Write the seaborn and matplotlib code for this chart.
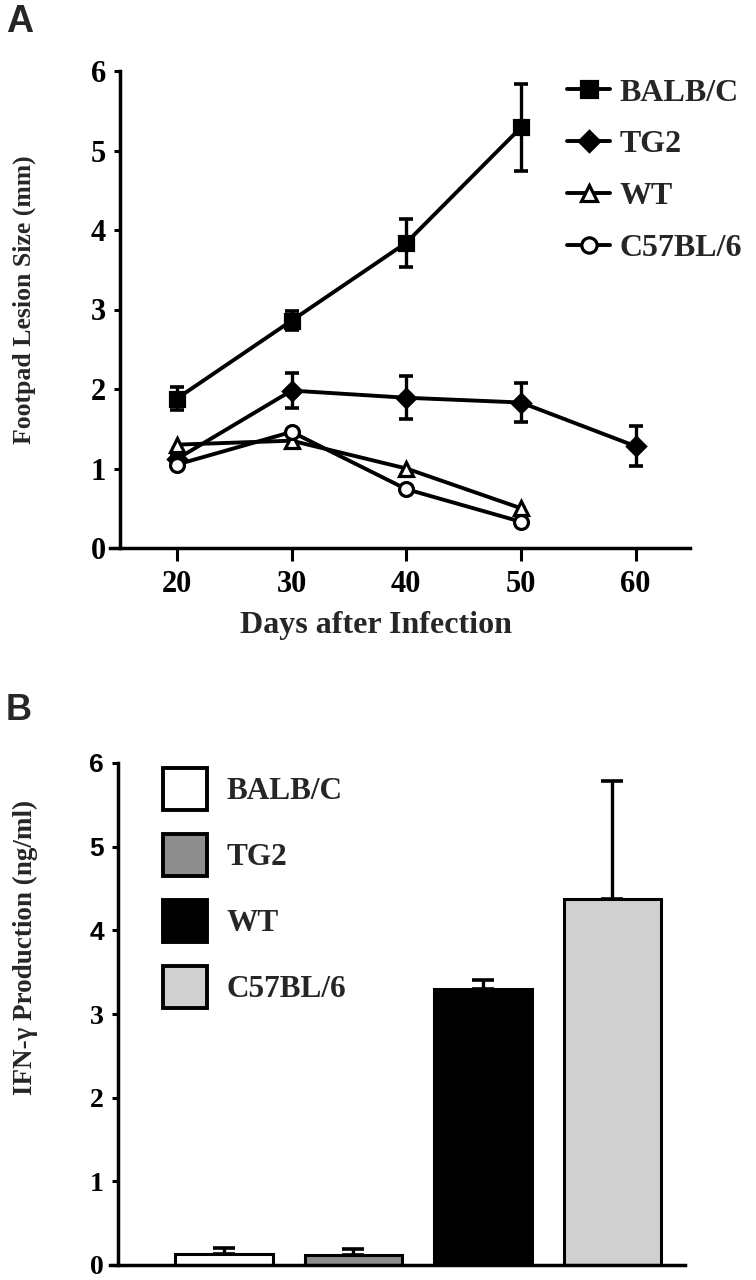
import numpy as np
import pandas as pd
import matplotlib
matplotlib.use("Agg")
import matplotlib.pyplot as plt
import seaborn as sns
from matplotlib.lines import Line2D
from matplotlib.patches import Patch

# ---------------- data ----------------
days = [20, 30, 40, 50]
tg2_days = [20, 30, 40, 50, 60]

balb_size = [1.88, 2.86, 3.84, 5.29]
balb_err = [0.14, 0.12, 0.30, 0.55]
tg2_size = [1.12, 1.98, 1.89, 1.83, 1.28]
tg2_err = [0.05, 0.22, 0.27, 0.25, 0.25]
wt_size = [1.30, 1.35, 1.00, 0.50]
c57_size = [1.05, 1.46, 0.74, 0.33]

strains = ["BALB/C", "TG2", "WT", "C57BL/6"]
ifn_values = [0.13, 0.12, 3.30, 4.37]
ifn_err = [0.07, 0.07, 0.11, 1.41]
bar_colors = ["#ffffff", "#8e8e8e", "#000000", "#cfd0cf"]

x_ticks_a = [20, 30, 40, 50, 60]
y_ticks = [0, 1, 2, 3, 4, 5, 6]

# ---------------- style ----------------
sns.set_theme(style="white")
plt.rcParams["font.family"] = ["Liberation Serif", "DejaVu Serif"]
plt.rcParams["font.weight"] = "bold"

SERIF = "Liberation Serif"
SANS = "Liberation Sans"
TICK_FS = 22

fig = plt.figure(figsize=(7.56, 12.8), dpi=100)
W, H = 756, 1280


def ax_rect(x0, x1, ytop, ybot):
    return [x0 / W, 1 - ybot / H, (x1 - x0) / W, (ybot - ytop) / H]


# ================= Panel A =================
axA = fig.add_axes(ax_rect(110, 690, 71, 548))

series = [
    ("BALB/C", days, balb_size, balb_err, "s", "black", 10),
    ("TG2", tg2_days, tg2_size, tg2_err, "D", "black", 9),
    ("WT", days, wt_size, None, "^", "white", 10),
    ("C57BL/6", days, c57_size, None, "o", "white", 10),
]
for name, xs, ys, errs, mk, fc, ms in series:
    df = pd.DataFrame({"day": xs, "size": ys})
    sns.lineplot(data=df, x="day", y="size", ax=axA, color="black",
                 linewidth=2.8, marker=mk, markersize=ms,
                 markerfacecolor=fc, markeredgecolor="black",
                 markeredgewidth=2.3, label=name, zorder=3)
    if errs is not None:
        axA.errorbar(xs, ys, yerr=errs, fmt="none", ecolor="black",
                     elinewidth=2.4, capsize=5, capthick=2.6, zorder=2)

axA.set_xlim(14.16, 64.74)
axA.set_ylim(0, 6)
axA.spines["left"].set_position(("data", 15.03))
axA.spines["right"].set_visible(False)
axA.spines["top"].set_visible(False)
for s in ["left", "bottom"]:
    axA.spines[s].set_linewidth(2.5)
    axA.spines[s].set_color("black")
axA.set_xticks(x_ticks_a)
axA.set_xticklabels([str(v) for v in x_ticks_a], fontsize=TICK_FS,
                    fontweight="bold", family=SERIF)
axA.set_yticks(y_ticks)
axA.set_yticklabels([str(v) for v in y_ticks], fontsize=TICK_FS,
                    fontweight="bold", family=SERIF)
axA.tick_params(axis="x", direction="out", length=9, width=2.2, pad=7,
                colors="black", bottom=True)
axA.tick_params(axis="y", direction="out", length=4, width=2.2, pad=6,
                colors="black", left=True)
axA.set_xlabel("Days after Infection", fontsize=23, fontweight="bold",
               family=SERIF)
axA.set_ylabel("Footpad Lesion Size (mm)", fontsize=18.5, fontweight="bold",
               family=SERIF)
axA.xaxis.set_label_coords(0.458, -0.133)
axA.yaxis.set_label_coords(-0.128, 0.52)

handlesA = [
    Line2D([], [], color="black", lw=2.8, marker="s", ms=11, mfc="black",
           mec="black", mew=2.3),
    Line2D([], [], color="black", lw=2.8, marker="D", ms=10, mfc="black",
           mec="black", mew=2.3),
    Line2D([], [], color="black", lw=2.8, marker="^", ms=11, mfc="white",
           mec="black", mew=2.3),
    Line2D([], [], color="black", lw=2.8, marker="o", ms=11, mfc="white",
           mec="black", mew=2.3),
]
legA = axA.legend(handlesA, strains, loc="upper left",
                  bbox_to_anchor=(0.788, 0.985), frameon=False,
                  borderpad=0, borderaxespad=0, handlelength=1.35,
                  handletextpad=0.3, labelspacing=0.7,
                  prop={"family": SERIF, "weight": "bold", "size": 23})

fig.text(6 / W, 1 - 4 / H, "A", family=SANS, fontweight="bold",
         fontsize=27, va="top", ha="left")

# ================= Panel B =================
axB = fig.add_axes(ax_rect(110, 685, 763, 1265))
dfB = pd.DataFrame({"strain": strains, "ifn": ifn_values})
sns.barplot(data=dfB, x="strain", y="ifn", hue="strain", order=strains,
            hue_order=strains, palette=dict(zip(strains, bar_colors)),
            edgecolor="black", linewidth=2.2, width=0.75, legend=False,
            errorbar=None, ax=axB, saturation=1)
xpos = np.arange(len(strains))
axB.errorbar(xpos, ifn_values, yerr=[np.zeros(len(strains)), ifn_err],
             fmt="none", ecolor="black", elinewidth=2.4, capsize=8,
             capthick=2.6, zorder=3)

axB.set_xlim(-0.88, 3.56)
axB.set_ylim(0, 6)
axB.spines["left"].set_position(("data", -0.82))
axB.spines["right"].set_visible(False)
axB.spines["top"].set_visible(False)
for s in ["left", "bottom"]:
    axB.spines[s].set_linewidth(2.5)
    axB.spines[s].set_color("black")
axB.set_xticks([])
axB.set_xlabel("")
axB.set_yticks(y_ticks)
axB.set_yticklabels([str(v) for v in y_ticks], fontsize=20,
                    fontweight="bold", family=SERIF)
for lbl, v in zip(axB.get_yticklabels(), y_ticks):
    if v >= 4:
        lbl.set_family(SANS)
        lbl.set_fontsize(19)
axB.tick_params(axis="y", direction="out", length=4, width=2.2, pad=6,
                colors="black", left=True)
axB.set_ylabel("IFN-\u03b3 Production (ng/ml)", fontsize=19.5,
               fontweight="bold", family=SERIF)
axB.yaxis.set_label_coords(-0.125, 0.633)

handlesB = [Patch(facecolor=c, edgecolor="black", linewidth=2.8)
            for c in bar_colors]
legB = axB.legend(handlesB, strains, loc="upper left",
                  bbox_to_anchor=(0.092, 0.99), frameon=False,
                  borderpad=0, borderaxespad=0, handlelength=1.41,
                  handleheight=1.69, handletextpad=0.62, labelspacing=0.77,
                  prop={"family": SERIF, "weight": "bold", "size": 22.5})

fig.text(6 / W, 1 - 693 / H, "B", family=SANS, fontweight="bold",
         fontsize=26, va="top", ha="left")

fig.savefig("out.png", dpi=100, facecolor="white")
